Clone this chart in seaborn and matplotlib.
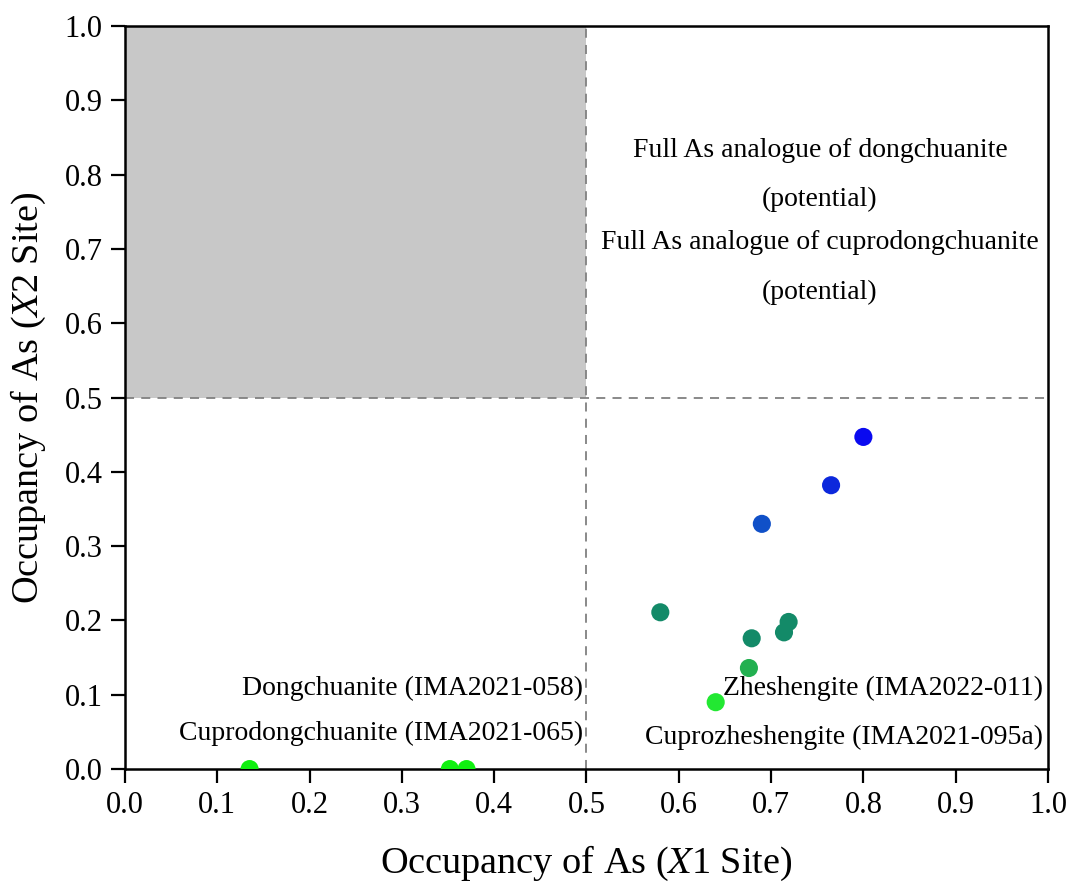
import matplotlib
matplotlib.use("Agg")
import matplotlib.pyplot as plt
import seaborn as sns
import pandas as pd

# Data
x1 = [0.800, 0.765, 0.690, 0.580, 0.679, 0.719, 0.714, 0.676, 0.640, 0.135, 0.352, 0.370]
x2 = [0.447, 0.382, 0.330, 0.211, 0.176, 0.198, 0.184, 0.136, 0.090, 0.000, 0.000, 0.000]
group = ["g1", "g2", "g3", "g4", "g4", "g4", "g4", "g5", "g6", "g7", "g7", "g7"]
palette = {"g1": "#0a0af0", "g2": "#0c28dc", "g3": "#1050c8", "g4": "#138a68",
           "g5": "#22b050", "g6": "#22e832", "g7": "#10f010"}

df = pd.DataFrame({"x1": x1, "x2": x2, "group": group})

sns.set_theme(style="ticks")
plt.rcParams["font.family"] = ["Liberation Serif", "DejaVu Serif"]
plt.rcParams["mathtext.fontset"] = "stix"
plt.rcParams["text.color"] = "black"
plt.rcParams["axes.labelcolor"] = "black"
plt.rcParams["xtick.color"] = "black"
plt.rcParams["ytick.color"] = "black"

fig = plt.figure(figsize=(10.71, 8.84), dpi=100)
ax = fig.add_axes([0.1167, 0.130, 0.8618, 0.8406])

ax.fill_between([0, 0.5], 0.5, 1.0, color="#c8c8c8", zorder=0, linewidth=0)
ax.axvline(0.5, color="#808080", linestyle=(0, (5, 4)), linewidth=1.3, zorder=1)
ax.axhline(0.5, color="#808080", linestyle=(0, (5, 4)), linewidth=1.3, zorder=1)

sns.scatterplot(data=df, x="x1", y="x2", hue="group", palette=palette, s=170,
                edgecolor="none", legend=False, ax=ax, zorder=3)

ax.set_xlim(0, 1)
ax.set_ylim(0, 1)
ax.set_xticks([i / 10 for i in range(11)])
ax.set_yticks([i / 10 for i in range(11)])
ax.xaxis.set_major_formatter(matplotlib.ticker.FormatStrFormatter("%.1f"))
ax.yaxis.set_major_formatter(matplotlib.ticker.FormatStrFormatter("%.1f"))
ax.tick_params(axis="both", direction="out", length=10, width=1.6, labelsize=22,
               color="black", labelcolor="black", pad=6)
for sp in ax.spines.values():
    sp.set_linewidth(1.8)
    sp.set_color("black")

ax.set_xlabel(r"Occupancy of As ($\mathit{X}$1 Site)", fontsize=27.5, labelpad=17)
ax.set_ylabel(r"Occupancy of As ($\mathit{X}$2 Site)", fontsize=27.5, labelpad=12)

fs = 20
cx = 0.753
ax.text(cx, 0.833, "Full As analogue of dongchuanite", ha="center", va="center", fontsize=fs)
ax.text(cx, 0.766, "(potential)", ha="center", va="center", fontsize=fs)
ax.text(cx, 0.708, "Full As analogue of cuprodongchuanite", ha="center", va="center", fontsize=fs)
ax.text(cx, 0.641, "(potential)", ha="center", va="center", fontsize=fs)
ax.text(0.496, 0.109, "Dongchuanite (IMA2021-058)", ha="right", va="center", fontsize=fs)
ax.text(0.496, 0.048, "Cuprodongchuanite (IMA2021-065)", ha="right", va="center", fontsize=fs)
ax.text(0.995, 0.109, "Zheshengite (IMA2022-011)", ha="right", va="center", fontsize=fs, zorder=4)
ax.text(0.995, 0.042, "Cuprozheshengite (IMA2021-095a)", ha="right", va="center", fontsize=fs)

fig.savefig("out.png", dpi=100)
